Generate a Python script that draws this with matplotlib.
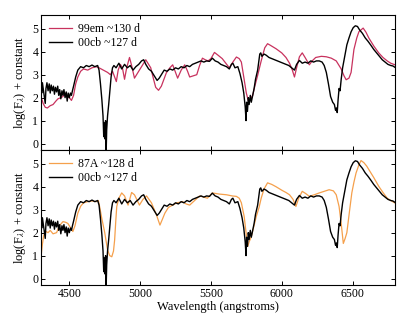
import matplotlib
matplotlib.use('Agg')
from matplotlib import pyplot as plt
import numpy as np

# 00cb ~127 d (black, same in both panels)
wl_00cb = [4300, 4305, 4310, 4318, 4325, 4330, 4335, 4342, 4350, 4358, 4365, 4372, 4380, 4388,
           4395, 4402, 4410, 4418, 4425, 4432, 4440, 4448, 4455, 4462, 4470, 4478, 4485, 4492,
           4500, 4508, 4515, 4522, 4530, 4545, 4560, 4580, 4600, 4620, 4640, 4660, 4680, 4700,
           4710, 4720, 4730, 4738, 4743, 4747, 4752, 4756, 4760, 4764, 4770, 4778, 4785, 4795,
           4805, 4815, 4830, 4850, 4870, 4890, 4910, 4930, 4950, 4970, 4990, 5010, 5025, 5040,
           5060, 5080, 5100, 5120, 5135, 5150, 5170, 5190, 5210, 5230, 5250, 5270, 5290, 5310,
           5330, 5350, 5370, 5390, 5410, 5430, 5450, 5470, 5490, 5510, 5530, 5550, 5570, 5590,
           5610, 5630, 5645, 5655, 5670, 5690, 5705, 5720, 5732, 5742, 5748, 5752, 5758, 5764,
           5770, 5778, 5785, 5795, 5805, 5815, 5830, 5845, 5852, 5860, 5875, 5890, 5910, 5930,
           5950, 5970, 5990, 6010, 6030, 6050, 6070, 6090, 6105, 6125, 6145, 6165, 6185, 6205,
           6225, 6245, 6265, 6285, 6300, 6315, 6330, 6345, 6360, 6372, 6380, 6386, 6392, 6398,
           6405, 6412, 6420, 6430, 6445, 6460, 6475, 6490, 6505, 6520, 6535, 6550, 6570, 6590,
           6610, 6630, 6650, 6670, 6690, 6710, 6730, 6750, 6770, 6785, 6800]
fl_00cb = [2.6, 2.2, 2.65, 2.3, 2.0, 1.75, 2.4, 2.65, 2.3, 2.6, 2.2, 2.55, 2.3, 2.5,
           2.15, 2.45, 2.25, 2.5, 2.1, 2.35, 1.95, 2.3, 2.1, 2.35, 2.0, 2.25, 1.85, 2.2,
           2.0, 2.2, 2.1, 2.3, 2.5, 2.9, 3.2, 3.35, 3.3, 3.4, 3.35, 3.42, 3.35, 3.4,
           3.2, 2.6, 1.9, 1.2, 0.3, 0.9, 0.2, 1.0, -0.4, 0.6, 1.2, 1.7, 2.2, 2.9,
           3.3, 3.4, 3.3, 3.5, 3.25, 3.45, 3.3, 3.4, 3.2, 3.35, 3.45, 3.6, 3.65, 3.45,
           3.25, 3.15, 2.95, 2.75, 2.85, 3.0, 3.2, 3.15, 3.25, 3.2, 3.3, 3.25, 3.35, 3.3,
           3.4, 3.35, 3.45, 3.5, 3.55, 3.6, 3.55, 3.6, 3.58, 3.72, 3.6, 3.55, 3.45, 3.4,
           3.35, 3.25, 3.45, 3.5, 3.3, 3.35, 3.05, 2.65, 2.2, 1.6, 1.0, 1.8, 1.4, 2.0,
           1.7, 2.1, 1.8, 2.1, 2.4, 2.8, 3.2, 3.9, 3.95, 3.8, 3.9, 3.85, 3.75, 3.7,
           3.65, 3.6, 3.55, 3.5, 3.45, 3.4, 3.3, 3.2, 3.45, 3.62, 3.5, 3.55, 3.5, 3.6,
           3.55, 3.6, 3.6, 3.55, 3.4, 3.1, 2.6, 2.05, 1.8, 1.7, 1.45, 1.55, 1.35, 1.9,
           2.4, 2.3, 2.8, 3.3, 3.8, 4.3, 4.6, 4.87, 5.05, 5.13, 5.1, 4.95, 4.8, 4.6,
           4.45, 4.28, 4.1, 3.95, 3.8, 3.65, 3.55, 3.45, 3.4, 3.38, 3.32]

# 99em ~130 d (top panel)
wl_99em = [4300, 4315, 4330, 4345, 4365, 4385, 4405, 4420, 4440, 4455, 4470, 4485, 4500, 4515,
           4530, 4545, 4560, 4580, 4600, 4630, 4660, 4690, 4710, 4740, 4770, 4790, 4805, 4820,
           4832, 4845, 4860, 4875, 4890, 4905, 4925, 4940, 4960, 4985, 5010, 5040, 5075, 5095,
           5110, 5130, 5150, 5185, 5210, 5230, 5250, 5265, 5290, 5315, 5335, 5350, 5375, 5400,
           5420, 5440, 5460, 5480, 5500, 5525, 5550, 5580, 5605, 5630, 5655, 5680, 5700, 5715,
           5735, 5750, 5765, 5780, 5795, 5810, 5830, 5855, 5880, 5900, 5920, 5960, 6000, 6030,
           6055, 6075, 6090, 6105, 6125, 6145, 6165, 6195, 6215, 6240, 6280, 6315, 6350, 6385,
           6420, 6440, 6455, 6475, 6490, 6510, 6530, 6545, 6575, 6595, 6615, 6650, 6685, 6715,
           6745, 6770, 6800]
fl_99em = [2.05, 1.75, 1.58, 1.55, 1.65, 1.7, 1.85, 1.95, 2.0, 2.05, 2.2, 2.05, 2.0, 1.88,
           2.1, 2.6, 2.9, 3.15, 3.25, 3.2, 3.3, 3.35, 3.3, 3.2, 3.1, 3.0, 3.15, 2.9,
           2.7, 3.2, 3.45, 3.3, 2.8, 3.3, 3.75, 3.4, 2.85, 3.1, 3.35, 3.65, 3.3, 2.8,
           2.45, 2.32, 2.5, 3.08, 3.3, 3.43, 3.1, 2.85, 3.2, 3.43, 3.15, 2.9, 2.95, 3.0,
           3.4, 3.72, 3.65, 3.6, 3.7, 3.97, 3.85, 3.7, 3.5, 3.3, 3.55, 3.77, 3.7, 3.55,
           2.78, 2.2, 1.85, 1.95, 2.1, 2.5, 2.97, 3.6, 4.17, 4.35, 4.28, 4.13, 3.95, 3.75,
           3.5, 3.2, 2.9, 3.3, 3.78, 3.95, 3.75, 3.43, 3.6, 3.75, 3.8, 3.78, 3.72, 3.6,
           3.25, 2.95, 2.78, 2.85, 3.1, 4.1, 4.6, 4.87, 5.03, 4.85, 4.6, 4.25, 3.95, 3.75,
           3.6, 3.5, 3.43]

# 87A ~128 d (bottom panel)
wl_87A = [4300, 4310, 4320, 4335, 4350, 4365, 4385, 4410, 4430, 4455, 4475, 4490, 4510, 4525,
          4540, 4560, 4580, 4600, 4630, 4660, 4690, 4705, 4715, 4730, 4750, 4770, 4785, 4800,
          4812, 4820, 4828, 4835, 4850, 4870, 4890, 4915, 4940, 4960, 4980, 4995, 5020, 5045,
          5080, 5100, 5115, 5140, 5155, 5175, 5200, 5230, 5260, 5300, 5325, 5350, 5385, 5420,
          5450, 5475, 5510, 5560, 5610, 5650, 5680, 5700, 5715, 5735, 5750, 5760, 5770, 5785,
          5800, 5820, 5840, 5855, 5875, 5900, 5930, 5960, 6000, 6030, 6055, 6080, 6100, 6120,
          6145, 6170, 6195, 6230, 6265, 6300, 6335, 6365, 6385, 6405, 6420, 6435, 6448, 6460,
          6478, 6495, 6510, 6525, 6545, 6560, 6580, 6600, 6615, 6650, 6685, 6715, 6745, 6770,
          6800]
fl_87A = [0.95, 1.5, 1.9, 2.05, 2.0, 2.1, 1.95, 2.0, 2.3, 2.48, 2.45, 2.4, 2.2, 2.05,
          2.3, 2.85, 3.15, 3.3, 3.35, 3.38, 3.35, 3.4, 3.1, 2.6, 2.0, 1.25, 1.0, 0.95,
          1.2, 1.68, 2.5, 3.14, 3.5, 3.73, 3.6, 3.2, 3.75, 3.65, 3.4, 3.2, 3.45, 3.6,
          3.3, 3.0, 2.78, 2.33, 2.55, 2.85, 3.1, 3.2, 3.3, 3.35, 3.25, 3.2, 3.4, 3.6,
          3.55, 3.5, 3.73, 3.68, 3.65, 3.6, 3.58, 3.5, 3.3, 2.7, 1.9, 1.4, 1.6, 1.82,
          2.2, 2.7, 3.1, 3.5, 3.9, 4.17, 4.1, 4.0, 3.85, 3.75, 3.65, 3.45, 3.14, 3.5,
          3.8, 3.7, 3.58, 3.65, 3.73, 3.8, 3.87, 3.82, 3.65, 3.14, 2.4, 1.53, 1.75, 2.0,
          2.9, 3.73, 4.2, 4.6, 4.95, 5.14, 5.05, 4.9, 4.75, 4.4, 4.02, 3.75, 3.5, 3.4,
          3.29]

plt.rcParams['font.family'] = ['Liberation Serif', 'DejaVu Serif']
plt.rcParams['mathtext.fontset'] = 'stix'
plt.rcParams['font.size'] = 8.5

fig = plt.figure(figsize=(4.15, 3.18), dpi=100)
ax1 = fig.add_axes([41/415, 1-150/318, 354/415, 135/318])
ax2 = fig.add_axes([41/415, 1-285/318, 354/415, 135/318])

red = '#c8325e'
orange = '#f5a04c'

ax1.plot(wl_99em, fl_99em, color=red, lw=0.9, label='99em ~130 d')
ax1.plot(wl_00cb, fl_00cb, color='black', lw=1.0, label='00cb ~127 d')
ax2.plot(wl_87A, fl_87A, color=orange, lw=0.9, label='87A ~128 d')
ax2.plot(wl_00cb, fl_00cb, color='black', lw=1.0, label='00cb ~127 d')

for ax in (ax1, ax2):
    ax.set_xlim(4300, 6800)
    ax.set_ylim(-0.28, 5.6)
    ax.set_xticks([4500, 5000, 5500, 6000, 6500])
    ax.set_yticks([0, 1, 2, 3, 4, 5])
    ax.tick_params(direction='in', top=True, right=True, length=3, width=0.7, labelsize=8.5, pad=2)
    ax.set_ylabel(r'log(F$_\lambda$) + constant', fontsize=9, labelpad=3)
    for s in ax.spines.values():
        s.set_linewidth(0.8)
    ax.legend(loc='upper left', frameon=False, fontsize=8.5, handlelength=1.9,
              handletextpad=0.5, labelspacing=0.15, borderaxespad=0.3)

ax1.set_xticklabels([])
ax2.set_xlabel('Wavelength (angstroms)', fontsize=9, labelpad=1)

plt.savefig('out.png', dpi=100)
